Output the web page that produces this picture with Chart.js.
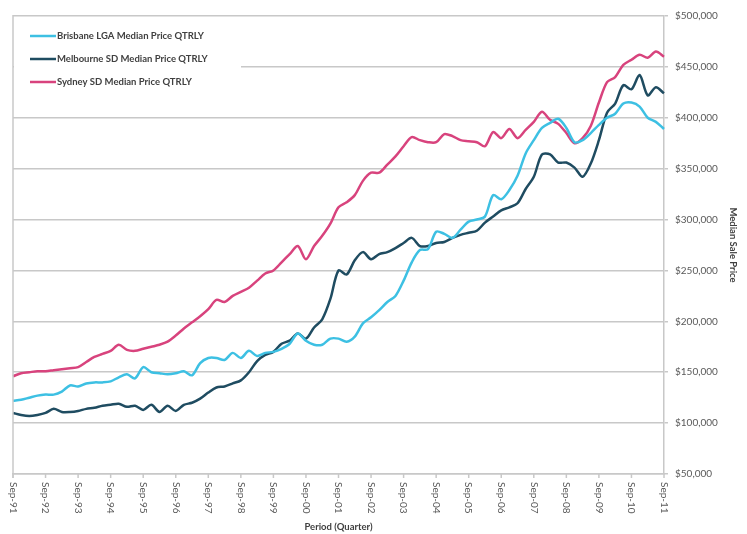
<!DOCTYPE html>
<html>
<head>
<meta charset="utf-8">
<script src="https://cdn.jsdelivr.net/npm/chart.js@4/dist/chart.umd.min.js"></script>
<style>
  html, body { margin: 0; padding: 0; background: #fff; }
  #wrap { width: 747px; height: 534px; }
</style>
</head>
<body>
<div id="wrap"><canvas id="priceChart" width="747" height="534"></canvas></div>
<script>
'use strict';

// --- DADOS (valores em milhares de dólares, trimestral) ---
const quarterLabels = [
  'Sep-91','Dec-91','Mar-92','Jun-92','Sep-92','Dec-92','Mar-93','Jun-93',
  'Sep-93','Dec-93','Mar-94','Jun-94','Sep-94','Dec-94','Mar-95','Jun-95',
  'Sep-95','Dec-95','Mar-96','Jun-96','Sep-96','Dec-96','Mar-97','Jun-97',
  'Sep-97','Dec-97','Mar-98','Jun-98','Sep-98','Dec-98','Mar-99','Jun-99',
  'Sep-99','Dec-99','Mar-00','Jun-00','Sep-00','Dec-00','Mar-01','Jun-01',
  'Sep-01','Dec-01','Mar-02','Jun-02','Sep-02','Dec-02','Mar-03','Jun-03',
  'Sep-03','Dec-03','Mar-04','Jun-04','Sep-04','Dec-04','Mar-05','Jun-05',
  'Sep-05','Dec-05','Mar-06','Jun-06','Sep-06','Dec-06','Mar-07','Jun-07',
  'Sep-07','Dec-07','Mar-08','Jun-08','Sep-08','Dec-08','Mar-09','Jun-09',
  'Sep-09','Dec-09','Mar-10','Jun-10','Sep-10','Dec-10','Mar-11','Jun-11',
  'Sep-11'
];

const brisbanePrices = [
  122,123,125,127,128,128,131,137,136,139,140,140,141,145,148,144,155,
  150,149,148,149,151,147,159,164,164,162,169,164,171,166,169,170,
  173,178,188,181,177,177,183,183,180,185,198,204,211,219,225,240,258,
  270,271,288,286,282,290,298,300,303,324,320,329,343,365,378,390,
  395,399,390,376,378,385,393,400,404,414,415,411,400,396,389
];

const melbournePrices = [
  110,108,107,108,110,114,111,111,112,114,115,117,118,119,116,117,113,
  118,111,117,112,118,120,124,130,135,136,139,142,150,161,167,170,
  178,181,188,183,194,202,222,250,246,260,268,261,266,268,272,277,282,
  274,274,277,278,282,285,287,289,297,303,309,312,316,330,342,364,
  364,356,356,351,342,355,378,405,414,432,428,442,422,430,424
];

const sydneyPrices = [
  146,149,150,151,151,152,153,154,155,160,165,168,171,177,172,171,173,
  175,177,180,186,193,199,205,212,221,219,225,229,233,240,247,250,
  258,266,274,261,274,284,296,312,317,324,338,346,346,354,362,372,381,
  378,376,376,384,382,378,377,376,372,386,380,389,380,388,396,406,
  398,394,385,375,380,392,415,435,440,452,457,462,459,465,460
];

const seriesNames = [
  'Brisbane LGA Median Price QTRLY',
  'Melbourne SD Median Price QTRLY',
  'Sydney SD Median Price QTRLY'
];

const yTickMin = 50;
const yTickMax = 500;
const yTickStep = 50;

// --- ESTILO ---
const FONT = 'Lato, "Open Sans", sans-serif';
const GRID = '#c8c8c8';
const TEXT = '#595959';
const COLORS = ['#3dc0e3', '#1f4c61', '#d8437d'];

// --- PLUGIN: eixo X (rótulos a ler de cima para baixo), borda esquerda, legenda ---
const extrasPlugin = {
  id: 'extras',
  beforeDatasetsDraw(chart) {
    const ctx = chart.ctx;
    const area = chart.chartArea;
    // caixa branca da legenda por cima das linhas de grelha
    ctx.save();
    ctx.fillStyle = '#fff';
    ctx.fillRect(area.left + 1, area.top + 2, 227, 94);
    ctx.restore();
  },
  afterDraw(chart) {
    const ctx = chart.ctx;
    const area = chart.chartArea;
    const xs = chart.scales.x;
    ctx.save();

    // borda esquerda
    ctx.strokeStyle = GRID;
    ctx.lineWidth = 1.5;
    ctx.beginPath();
    ctx.moveTo(area.left, area.top - 1);
    ctx.lineTo(area.left, area.bottom + 4);
    ctx.stroke();

    // marcas e rótulos anuais
    ctx.font = '10px ' + FONT;
    ctx.fillStyle = TEXT;
    ctx.textAlign = 'left';
    ctx.textBaseline = 'middle';
    quarterLabels.forEach((lab, i) => {
      if (!lab.startsWith('Sep')) return;
      const x = xs.getPixelForValue(i);
      ctx.beginPath();
      ctx.moveTo(x, area.bottom);
      ctx.lineTo(x, area.bottom + 4);
      ctx.stroke();
      ctx.save();
      ctx.translate(x, area.bottom + 8);
      ctx.rotate(Math.PI / 2);
      ctx.fillText(lab, 0, 0);
      ctx.restore();
    });

    // legenda
    ctx.font = 'bold 9.5px ' + FONT;
    ctx.fillStyle = '#404040';
    chart.data.datasets.forEach((ds, i) => {
      const y = 36 + i * 23;
      ctx.strokeStyle = ds.borderColor;
      ctx.lineWidth = 2.5;
      ctx.beginPath();
      ctx.moveTo(30, y);
      ctx.lineTo(56, y);
      ctx.stroke();
      ctx.fillText(ds.label, 57, y);
    });
    ctx.restore();
  }
};

// --- GRÁFICO ---
const datasets = [brisbanePrices, melbournePrices, sydneyPrices].map((values, i) => ({
  label: seriesNames[i],
  data: values,
  borderColor: COLORS[i],
  backgroundColor: COLORS[i],
  borderWidth: 2.5,
  pointRadius: 0,
  tension: 0.3,
  fill: false
}));

new Chart(document.getElementById('priceChart').getContext('2d'), {
  type: 'line',
  data: { labels: quarterLabels, datasets: datasets },
  plugins: [extrasPlugin],
  options: {
    responsive: false,
    animation: false,
    layout: { padding: { left: 13, top: 16, right: 0, bottom: 0 } },
    plugins: { legend: { display: false }, tooltip: { enabled: false } },
    scales: {
      x: {
        offset: false,
        grid: { display: false },
        border: { display: true, color: GRID, width: 1.5 },
        ticks: { display: false },
        title: {
          display: true,
          text: 'Period (Quarter)',
          color: '#404040',
          font: { family: FONT, size: 9.5, weight: 'bold' },
          padding: { top: 0, bottom: 1 }
        },
        afterFit: (scale) => { scale.height = 60; }
      },
      y: {
        position: 'right',
        min: yTickMin,
        max: yTickMax,
        grid: { color: GRID, lineWidth: 1.5, tickLength: 4 },
        border: { display: true, color: GRID, width: 1.5 },
        ticks: {
          stepSize: yTickStep,
          padding: 7,
          color: TEXT,
          font: { family: FONT, size: 10 },
          callback: (v) => '$' + v + ',000'
        },
        title: {
          display: true,
          text: 'Median Sale Price',
          color: '#404040',
          font: { family: FONT, size: 9.5, weight: 'bold' },
          padding: { top: 8, bottom: 0 }
        },
        afterFit: (scale) => { scale.width = 83; }
      }
    }
  }
});
</script>
</body>
</html>
